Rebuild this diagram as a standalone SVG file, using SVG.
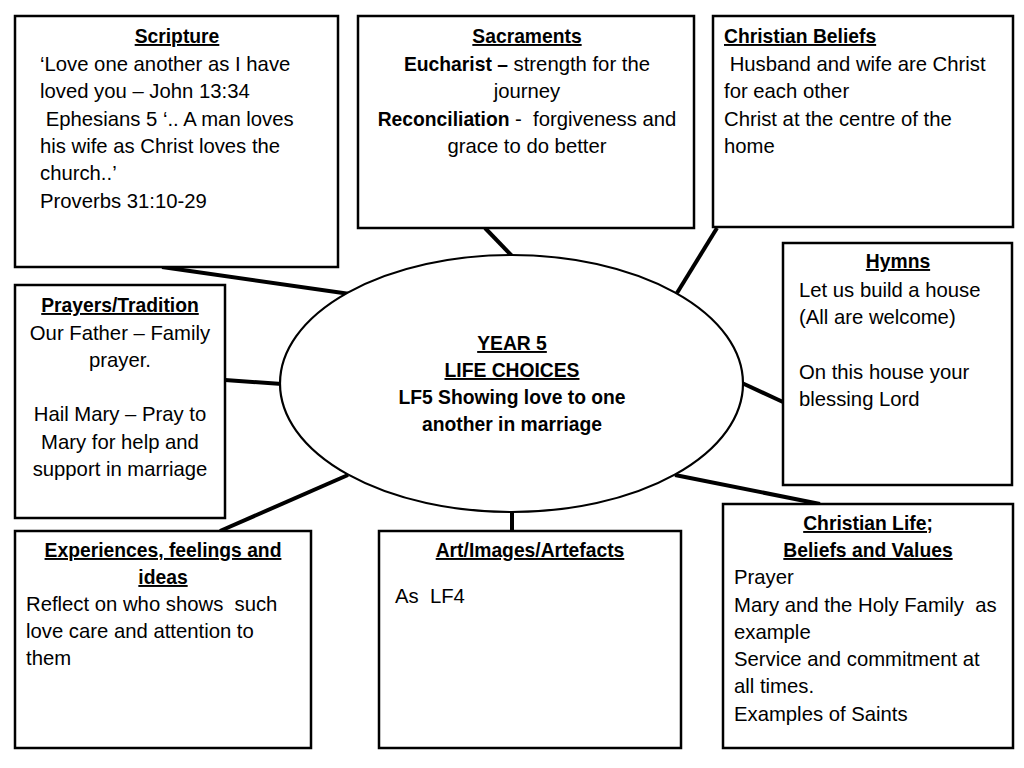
<svg xmlns="http://www.w3.org/2000/svg" width="1024" height="768" viewBox="0 0 1024 768">
<style>
.box{fill:#fff;stroke:#000;stroke-width:2.5}
.ell{fill:#fff;stroke:#000;stroke-width:2.2}
.con{stroke:#000;stroke-width:4;stroke-linecap:butt;fill:none}
text{font-family:"Liberation Sans",Arial,sans-serif;font-size:20.3px;fill:#000}
.h{font-weight:bold;text-decoration:underline;font-size:19.3px}
.b{font-weight:bold;font-size:19.3px}
.c{text-anchor:middle}
</style>
<rect width="1024" height="768" fill="#fff"/>
<g id="connectors">
<line class="con" x1="162" y1="267" x2="350" y2="294"/>
<line class="con" x1="485" y1="228" x2="512" y2="256"/>
<line class="con" x1="717" y1="228" x2="677" y2="293"/>
<line class="con" x1="225" y1="380" x2="282" y2="384"/>
<line class="con" x1="742" y1="383" x2="783" y2="402"/>
<line class="con" x1="675" y1="475" x2="820" y2="504"/>
<line class="con" x1="220" y1="531" x2="348" y2="475"/>
<line class="con" x1="512" y1="511" x2="512" y2="531"/>
</g>
<g id="scripture">
<rect class="box" x="15" y="16" width="323" height="251"/>
<text class="h c" x="177" y="43">Scripture</text>
<text x="40" y="71">‘Love one another as I have</text>
<text x="40" y="98">loved you – John 13:34</text>
<text x="40" y="126" xml:space="preserve"> Ephesians 5 ‘.. A man loves</text>
<text x="40" y="153">his wife as Christ loves the</text>
<text x="40" y="180">church..’</text>
<text x="40" y="208">Proverbs 31:10-29</text>
</g>
<g id="sacraments">
<rect class="box" x="358" y="16" width="336" height="212"/>
<text class="h c" x="527" y="43">Sacraments</text>
<text class="c" x="527" y="71"><tspan class="b">Eucharist –</tspan> strength for the</text>
<text class="c" x="527" y="98">journey</text>
<text class="c" x="527" y="126" xml:space="preserve"><tspan class="b">Reconciliation</tspan> -  forgiveness and</text>
<text class="c" x="527" y="153">grace to do better</text>
</g>
<g id="christian-beliefs">
<rect class="box" x="713" y="16" width="300" height="211"/>
<text class="h" x="724" y="43">Christian Beliefs</text>
<text x="724" y="71" xml:space="preserve"> Husband and wife are Christ</text>
<text x="724" y="98">for each other</text>
<text x="724" y="126">Christ at the centre of the</text>
<text x="724" y="153">home</text>
</g>
<g id="prayers">
<rect class="box" x="15" y="285" width="210" height="233"/>
<text class="h c" x="120" y="312">Prayers/Tradition</text>
<text class="c" x="120" y="340">Our Father – Family</text>
<text class="c" x="120" y="367">prayer.</text>
<text class="c" x="120" y="421">Hail Mary – Pray to</text>
<text class="c" x="120" y="449">Mary for help and</text>
<text class="c" x="120" y="476">support in marriage</text>
</g>
<g id="centre">
<ellipse class="ell" cx="511.5" cy="383.5" rx="231.5" ry="128.5"/>
<text class="h c" x="512" y="350">YEAR 5</text>
<text class="h c" x="512" y="377">LIFE CHOICES</text>
<text class="b c" x="512" y="404">LF5 Showing love to one</text>
<text class="b c" x="512" y="431">another in marriage</text>
</g>
<g id="hymns">
<rect class="box" x="783" y="243" width="229" height="242"/>
<text class="h c" x="898" y="268">Hymns</text>
<text x="799" y="297">Let us build a house</text>
<text x="799" y="324">(All are welcome)</text>
<text x="799" y="379">On this house your</text>
<text x="799" y="406">blessing Lord</text>
</g>
<g id="experiences">
<rect class="box" x="15" y="531" width="296" height="217"/>
<text class="h c" x="163" y="557">Experiences, feelings and</text>
<text class="h c" x="163" y="584">ideas</text>
<text x="26" y="611" xml:space="preserve">Reflect on who shows  such</text>
<text x="26" y="638">love care and attention to</text>
<text x="26" y="665">them</text>
</g>
<g id="art">
<rect class="box" x="379" y="531" width="302" height="217"/>
<text class="h c" x="530" y="557">Art/Images/Artefacts</text>
<text x="395" y="603" xml:space="preserve">As  LF4</text>
</g>
<g id="christian-life">
<rect class="box" x="723" y="504" width="290" height="244"/>
<text class="h c" x="868" y="530">Christian Life;</text>
<text class="h c" x="868" y="557">Beliefs and Values</text>
<text x="734" y="584">Prayer</text>
<text x="734" y="612" xml:space="preserve">Mary and the Holy Family  as</text>
<text x="734" y="639">example</text>
<text x="734" y="666">Service and commitment at</text>
<text x="734" y="693">all times.</text>
<text x="734" y="721">Examples of Saints</text>
</g>
</svg>
